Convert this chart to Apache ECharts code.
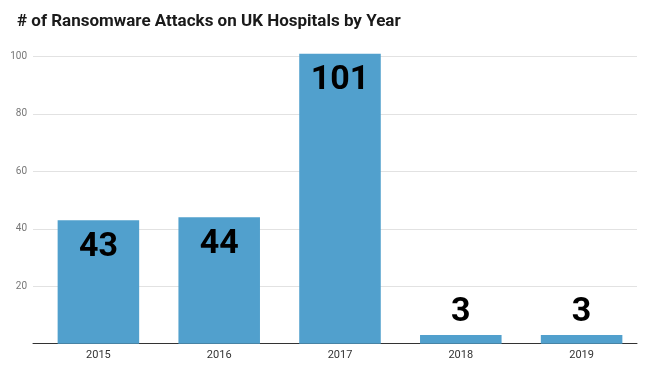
<!DOCTYPE html>
<html>
<head>
<meta charset="utf-8">
<script src="https://cdn.jsdelivr.net/npm/echarts@6/dist/echarts.min.js"></script>
<style>html,body{margin:0;padding:0;background:#fff}#c{width:650px;height:368px}</style>
</head>
<body>
<div id="c"></div>
<script>
const title = "# of Ransomware Attacks on UK Hospitals by Year";
const years = ["2015", "2016", "2017", "2018", "2019"];
const attacks = [43, 44, 101, 3, 3];
const yTicks = [0, 20, 40, 60, 80, 100];

const chart = echarts.init(document.getElementById('c'));
chart.setOption({
  animation: false,
  title: {
    text: title, left: 12, top: 8,
    textStyle: { fontFamily: 'Roboto', fontWeight: 'bold', fontSize: 17, color: '#1a1a1a' }
  },
  grid: [
    { left: 33, right: 13, top: 56.5, bottom: 24.3 },
    { left: 38, right: 8, top: 56.5, bottom: 24.3 }
  ],
  xAxis: [
    { type: 'category', gridIndex: 0, data: years,
      axisLine: { lineStyle: { color: '#333', width: 1 } },
      axisTick: { show: false }, axisLabel: { show: false } },
    { type: 'category', gridIndex: 1, data: years,
      axisLine: { show: false }, axisTick: { show: false },
      axisLabel: { color: '#333', fontFamily: 'Roboto', fontSize: 11, margin: 6 } }
  ],
  yAxis: [
    { type: 'value', gridIndex: 0, min: yTicks[0], max: yTicks[yTicks.length - 1], interval: 20,
      axisLine: { show: false }, axisTick: { show: false },
      splitLine: { lineStyle: { color: '#e2e2e2' } },
      axisLabel: { color: '#777', fontFamily: 'Roboto', fontSize: 10, margin: 6,
        formatter: v => v === 0 ? '' : String(v) } },
    { type: 'value', gridIndex: 1, min: yTicks[0], max: yTicks[yTicks.length - 1], interval: 20,
      show: false, splitLine: { show: false } }
  ],
  series: [{
    type: 'bar', xAxisIndex: 1, yAxisIndex: 1, clip: false,
    barWidth: '67.5%',
    itemStyle: { color: '#51a0cd' },
    label: { show: true, fontFamily: 'Roboto', fontWeight: 'bold', fontSize: 34, color: '#000' },
    data: attacks.map(v => ({
      value: v,
      label: v < 10 ? { position: 'top', distance: 6 } : { position: 'insideTop', distance: 10 }
    }))
  }]
});
</script>
</body>
</html>
